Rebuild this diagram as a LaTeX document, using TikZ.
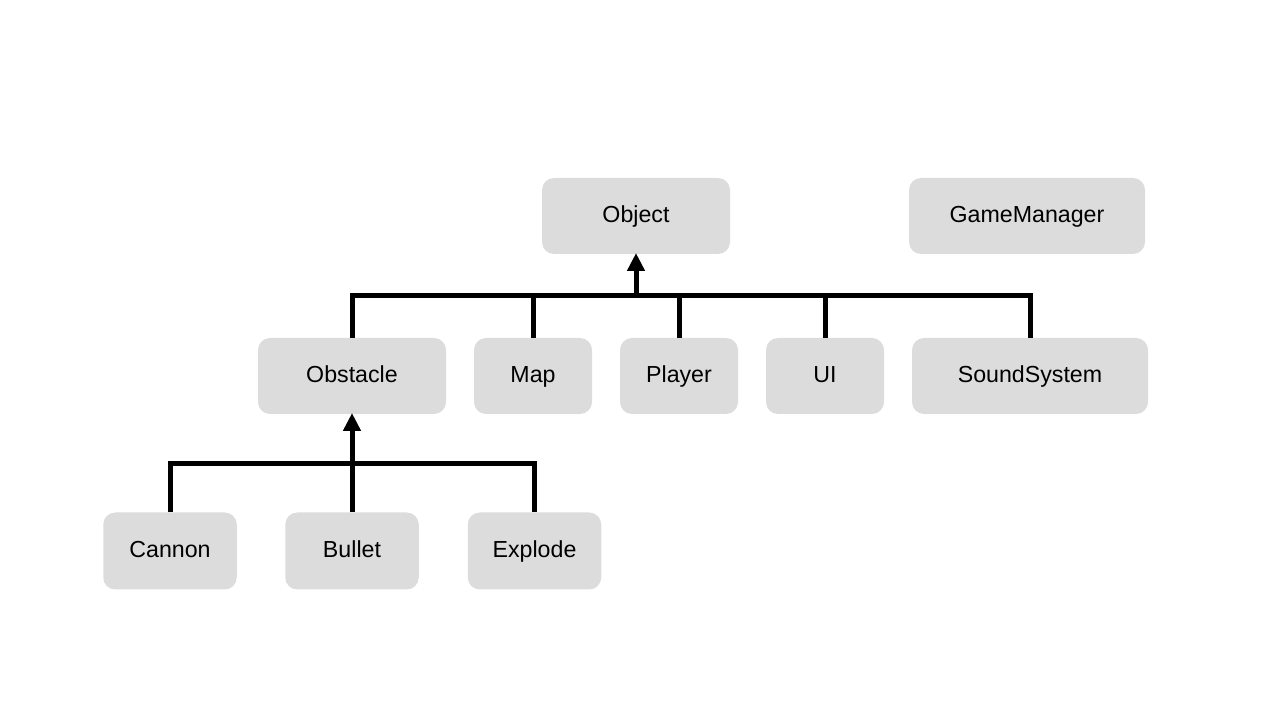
\documentclass[tikz,border=0pt]{standalone}
\usepackage{fontspec}
\setmainfont{Liberation Sans}
\usetikzlibrary{positioning,arrows.meta}
\definecolor{boxgray}{RGB}{220,220,220}

\begin{document}
\begin{tikzpicture}[line width=0.1cm]
    \tikzstyle{class}=[rectangle,rounded corners=0.24cm,fill=boxgray,draw=none,minimum height=1.52cm,inner sep=0pt,outer sep=0pt,text height=1.75ex,text depth=0.35ex,font=\fontsize{13.2}{15}\selectfont]
    \tikzstyle{small class}=[class,minimum width=2.36cm]
    \tikzstyle{mid class}=[class,minimum width=3.76cm]
    \tikzstyle{wide class}=[class,minimum width=4.72cm]
    \tikzstyle{leaf class}=[class,minimum width=2.67cm,minimum height=1.54cm]
    \tikzstyle{link} = [black]
    \tikzstyle{edge} = [-{Triangle[length=0.36cm,width=0.34cm]}, black, shorten >=-0.02cm]

    \useasboundingbox (0,0) rectangle (25.6,14.4);

    \node[mid class] (object) at (12.72, 10.08) {Object};
    \node[wide class] (manager) at (20.54, 10.08) {GameManager};

    \node[mid class] (obstacle) at (7.04, 6.88) {Obstacle};
    \node[small class] (map) at (10.66, 6.88) {Map};
    \node[small class] (player) at (13.58, 6.88) {Player};
    \node[small class] (ui) at (16.5, 6.88) {UI};
    \node[wide class] (sound) at (20.6, 6.88) {SoundSystem};

    \node[leaf class] (cannon) at (3.4, 3.38) {Cannon};
    \node[leaf class] (bullet) at (7.04, 3.38) {Bullet};
    \node[leaf class] (explode) at (10.69, 3.38) {Explode};

    \coordinate (upper bus) at (12.72, 8.48);
    \coordinate (lower bus) at (7.04, 5.12);

    % children of Object
    \draw[link] (obstacle.north) -- (obstacle.north |- upper bus) -- (sound.north |- upper bus) -- (sound.north);
    \draw[link] (map.north) -- (map.north |- upper bus);
    \draw[link] (player.north) -- (player.north |- upper bus);
    \draw[link] (ui.north) -- (ui.north |- upper bus);
    \draw[edge] (upper bus) -- (object.south);

    % children of Obstacle
    \draw[link] (cannon.north) -- (cannon.north |- lower bus) -- (explode.north |- lower bus) -- (explode.north);
    \draw[link] (bullet.north) -- (lower bus);
    \draw[edge] (lower bus) -- (obstacle.south);
\end{tikzpicture}
\end{document}
